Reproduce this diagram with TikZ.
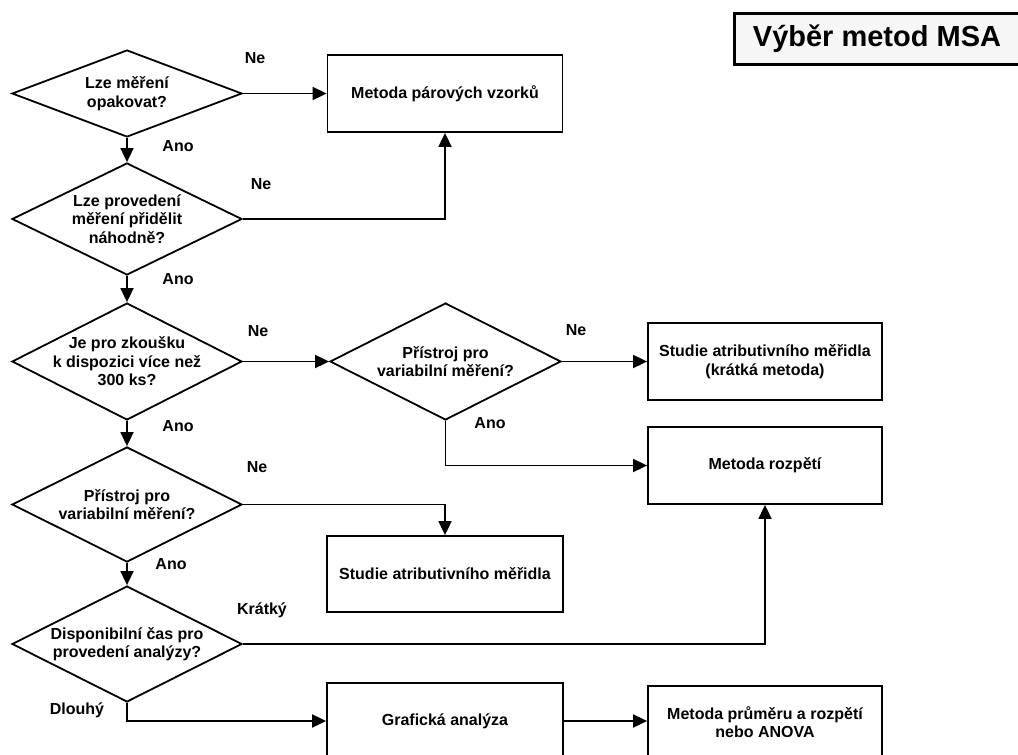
\documentclass[tikz,border=0pt]{standalone}
\usepackage{fontspec}
\setmainfont{Liberation Sans}
\usetikzlibrary{arrows.meta,shapes.geometric}
\definecolor{titlebg}{RGB}{246,246,246}
\newcommand{\flowfont}{\bfseries\fontsize{16}{18.5}\selectfont}
\newcommand{\titlefont}{\bfseries\fontsize{29}{34}\selectfont}
\begin{document}
\begin{tikzpicture}[x=1pt,y=-1pt,
  line width=1.8pt,
  >={Triangle[length=14pt,width=13pt]},
  dia/.style={draw, shape=diamond, inner sep=0pt, minimum width=230pt},
  dtext/.style={align=center, inner sep=0pt, font=\flowfont},
  box/.style={draw, rectangle, minimum width=235pt, minimum height=77pt, align=center, inner sep=0pt, font=\flowfont},
  lab/.style={inner sep=0pt, font=\flowfont},
  conn/.style={->, line width=1.8pt},
  frame/.style={line width=3pt, fill=titlebg}]
\useasboundingbox (0,0) rectangle (1018,755);
\clip (0,0) rectangle (1018,755);
\fill[white] (0,0) rectangle (1018,755);

% title
\fill[titlebg] (734,13) rectangle (1018,64);
\draw[frame, fill=none] (1018,13) -- (734,13) -- (734,64) -- (1018,64);
\node[anchor=west, inner sep=0pt, font=\titlefont] (title) at (752,38.5) {Výběr metod MSA};

% decisions
\node[dia, minimum height=87pt]  (d1) at (127,93.5) {};
\node[dtext] (t1) at (d1) {Lze měření\\opakovat?};
\node[dia, minimum height=112pt] (d2) at (127,219) {};
\node[dtext] (t2) at (d2) {Lze provedení\\měření přidělit\\náhodně?};
\node[dia, minimum height=117pt] (d3) at (127,361.5) {};
\node[dtext] (t3) at (d3) {Je pro zkoušku\\k dispozici více než\\300 ks?};
\node[dia, minimum height=117pt, minimum width=231pt] (d4) at (445.5,361.5) {};
\node[dtext] (t4) at (d4) {Přístroj pro\\variabilní měření?};
\node[dia, minimum height=115pt] (d5) at (127,504.5) {};
\node[dtext] (t5) at (d5) {Přístroj pro\\variabilní měření?};
\node[dia, minimum height=116pt] (d6) at (127,644) {};
\node[dtext] (t6) at (d6) {Disponibilní čas pro\\provedení analýzy?};

% boxes
\node[box] (b1) at (445,93.5) {Metoda párových vzorků};
\node[box, minimum width=234pt] (b3) at (765,361.5) {Studie atributivního měřidla\\(krátká metoda)};
\node[box, minimum width=234pt] (b4) at (765,465.5) {Metoda rozpětí};
\node[box, minimum width=236pt, minimum height=76pt] (b5) at (445,574) {Studie atributivního měřidla};
\node[box, minimum width=236pt, minimum height=76pt] (b6) at (445,721) {Grafická analýza};
\node[box, minimum width=234pt, minimum height=72pt] (b7) at (765,722) {Metoda průměru a rozpětí\\nebo ANOVA};

% connectors
\draw[conn] (d1.east) -- (d1.east -| b1.west);
\draw[conn] (d1.south) -- (d2.north);
\draw[conn] (d2.east) -| (b1.south);
\draw[conn] (d2.south) -- (d3.north);
\draw[conn] (d3.east) -- (d4.west);
\draw[conn] (d4.east) -- (d4.east -| b3.west);
\draw[conn] (d4.south) |- (b4.west);
\draw[conn] (d3.south) -- (d5.north);
\draw[conn] (d5.east) -| (b5.north);
\draw[conn] (d5.south) -- (d6.north);
\draw[conn] (d6.east) -| (b4.south);
\draw[conn] (d6.south) |- (b6.west);
\draw[conn] (b6.east) -- (b6.east -| b7.west);

% labels
\node[lab] (l1) at (255,58) {Ne};
\node[lab] (l2) at (178,146) {Ano};
\node[lab] (l3) at (261,184) {Ne};
\node[lab] (l4) at (178,279) {Ano};
\node[lab] (l5) at (258,331) {Ne};
\node[lab] (l6) at (178,426) {Ano};
\node[lab] (l7) at (576,330) {Ne};
\node[lab] (l8) at (490,423) {Ano};
\node[lab] (l9) at (257,467) {Ne};
\node[lab] (l10) at (171,564) {Ano};
\node[lab] (l11) at (262,610) {Krátký};
\node[lab] (l12) at (77,710) {Dlouhý};
\end{tikzpicture}
\end{document}
